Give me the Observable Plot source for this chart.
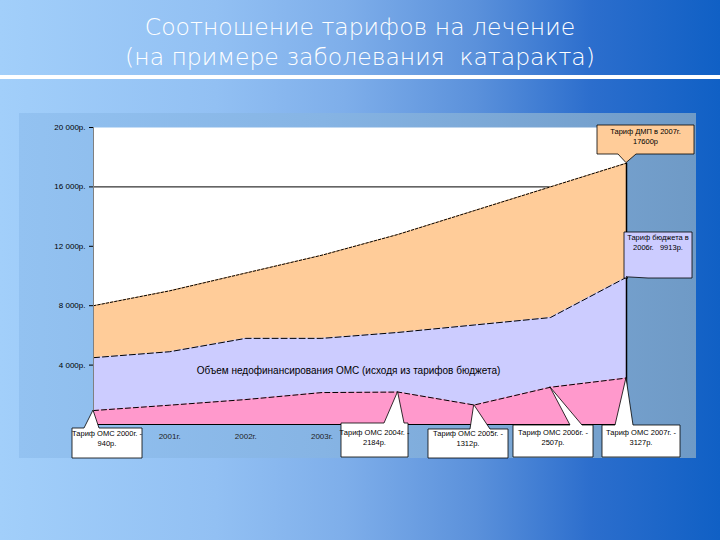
<!DOCTYPE html>
<html>
<head>
<meta charset="utf-8">
<script src="https://cdn.jsdelivr.net/npm/d3@7"></script>
<script src="https://cdn.jsdelivr.net/npm/@observablehq/plot@0.6"></script>
<style>
  html, body { margin: 0; padding: 0; overflow: hidden; }
  #slide { position: relative; width: 720px; height: 540px;
    background: linear-gradient(to right, #a2cffa 0%, #92c0f3 30%, #7eaeea 48%, #5b91db 66%, #2c6ecd 82%, #1060c5 100%); }
  .title { position: absolute; left: 0; width: 720px; text-align: center; color: #fff;
    font-family: "DejaVu Sans", Verdana, sans-serif; font-weight: 200; font-size: 23.5px; line-height: 30px; }
  #rule { position: absolute; left: 0; top: 75px; width: 720px; height: 4px; background: #fff; }
  #panel { position: absolute; left: 19px; top: 113px; width: 677px; height: 345px;
    background: linear-gradient(to right, #93c2f1 0%, #86b4e4 45%, #6f9ac6 100%); }
  #chart { position: absolute; left: 0; top: 0; }
</style>
</head>
<body>
<div id="slide">
  <div class="title" style="top:12px">Соотношение тарифов на лечение</div>
  <div class="title" style="top:42px">(на примере заболевания&nbsp; катаракта)</div>
  <div id="rule"></div>
  <div id="panel"></div>
  <div id="chart"></div>
</div>
<script>
// ---- data ----
const years = [2000, 2001, 2002, 2003, 2004, 2005, 2006, 2007];
const dmpTariff = [8000, 9000, 10200, 11400, 12800, 14400, 16000, 17600];
const budgetTariff = [4500, 4900, 5800, 5800, 6200, 6700, 7200, 9913];
const omsTariff = [940, 1300, 1680, 2150, 2184, 1312, 2507, 3127];
const yTicks = [4000, 8000, 12000, 16000, 20000];
const gridValue = [16000];
const gapLabel = "Объем недофинансирования ОМС (исходя из тарифов бюджета)";
const omsCalloutYears = [2000, 2004, 2005, 2006, 2007];
const yearTicks = years.filter(y => !omsCalloutYears.includes(y));

const rows = years.map((year, i) => ({year, dmp: dmpTariff[i], budget: budgetTariff[i], oms: omsTariff[i]}));
const last = rows[rows.length - 1];

const chart = Plot.plot({
  width: 720, height: 540,
  marginLeft: 93, marginRight: 94, marginTop: 127, marginBottom: 116,
  style: {background: "transparent", fontFamily: "'Liberation Sans', Arial, sans-serif", fontSize: "8px", color: "#000", overflow: "visible"},
  x: {domain: [years[0], years[years.length - 1]]},
  y: {domain: [0, 20000]},
  marks: [
    Plot.frame({fill: "white", stroke: null}),
    Plot.ruleY(gridValue, {stroke: "black", strokeWidth: 1}),
    Plot.areaY(rows, {x: "year", y: "dmp", fill: "#ffcc99"}),
    Plot.areaY(rows, {x: "year", y: "budget", fill: "#ccccff"}),
    Plot.areaY(rows, {x: "year", y: "oms", fill: "#ff99cc"}),
    Plot.lineY(rows, {x: "year", y: "dmp", stroke: "black", strokeWidth: 1, strokeDasharray: "2.5,1.8"}),
    Plot.lineY(rows, {x: "year", y: "budget", stroke: "black", strokeWidth: 1, strokeDasharray: "6,3"}),
    Plot.lineY(rows, {x: "year", y: "oms", stroke: "black", strokeWidth: 1, strokeDasharray: "5,3"}),
    Plot.ruleX([last], {x: "year", y1: 0, y2: "dmp", stroke: "black", strokeWidth: 1.5}),
    Plot.ruleX([years[0]], {stroke: "#808080", strokeWidth: 1}),
    Plot.ruleY([0], {stroke: "black", strokeWidth: 1}),
    Plot.axisY({ticks: yTicks, label: null, tickFormat: d => d3.format(",")(d).replace(",", " ") + "р.", tickSize: 4, tickPadding: 4, fontSize: 8, stroke: "black"}),
    Plot.axisX({ticks: yearTicks, label: null, tickFormat: d => d + "г.", tickSize: 0, tickPadding: 9, fontSize: 8, fill: "#222"}),
    Plot.text([gapLabel], {x: () => 2003.35, y: () => 3600, text: d => d, fontSize: 10, fill: "black"})
  ]
});
document.getElementById("chart").appendChild(chart);

// ---- callouts anchored through the plot's scales ----
const sx = chart.scale("x"), sy = chart.scale("y");
const byYear = Object.fromEntries(rows.map(r => [r.year, r]));
// layout: box [left, top, width, height], pointer base [b0, b1], text offset
const omsLayout = {
  2000: {box: [72, 428, 70, 30], base: [84, 99], t: 5},
  2004: {box: [341, 423, 67, 34], base: [384, 404], t: 9},
  2005: {box: [428, 429, 80, 29], base: [470, 490], t: 4},
  2006: {box: [513, 425, 80, 32], base: [570, 582], t: 7},
  2007: {box: [602, 425, 78, 32], base: [615, 633], t: 7}
};
const callouts = omsCalloutYears.map(yr => ({
  tip: [sx.apply(yr), sy.apply(byYear[yr].oms)],
  lines: [`Тариф ОМС ${yr}г. -`, `${byYear[yr].oms}р.`],
  fill: "white", edge: "top", ...omsLayout[yr]
}));
callouts.push({
  tip: [sx.apply(last.year), sy.apply(last.dmp)],
  lines: [`Тариф ДМП в ${last.year}г.`, `${last.dmp}р`],
  fill: "#ffcc99", edge: "bottom", box: [597, 125, 97, 29], base: [618, 636], t: 6
});
callouts.push({
  tip: [sx.apply(last.year), sy.apply(last.budget)],
  lines: ["Тариф бюджета в", `2006г.   ${last.budget}р.`],
  fill: "#ccccff", edge: "bottom", box: [624, 232, 68, 46], base: [628, 648], t: 5
});

const g = d3.select(chart).append("g");
for (const c of callouts) {
  const [x0, y0, w, h] = c.box, x1 = x0 + w, y1 = y0 + h;
  const [b0, b1] = c.base, [tx, ty] = c.tip;
  let d;
  if (c.edge === "top") {
    d = `M${x0},${y0}L${b0},${y0}L${tx},${ty}L${b1},${y0}L${x1},${y0}L${x1},${y1}L${x0},${y1}Z`;
  } else {
    d = `M${x0},${y0}L${x1},${y0}L${x1},${y1}L${b1},${y1}L${tx},${ty}L${b0},${y1}L${x0},${y1}Z`;
  }
  g.append("path").attr("d", d).attr("fill", c.fill).attr("stroke", "black").attr("stroke-width", 0.8);
  c.lines.forEach((line, i) => {
    g.append("text")
      .attr("x", (x0 + x1) / 2)
      .attr("y", y0 + c.t + i * 10)
      .attr("dy", "0.35em")
      .attr("text-anchor", "middle")
      .attr("font-size", 7.5)
      .attr("fill", "black")
      .text(line);
  });
}
</script>
</body>
</html>
